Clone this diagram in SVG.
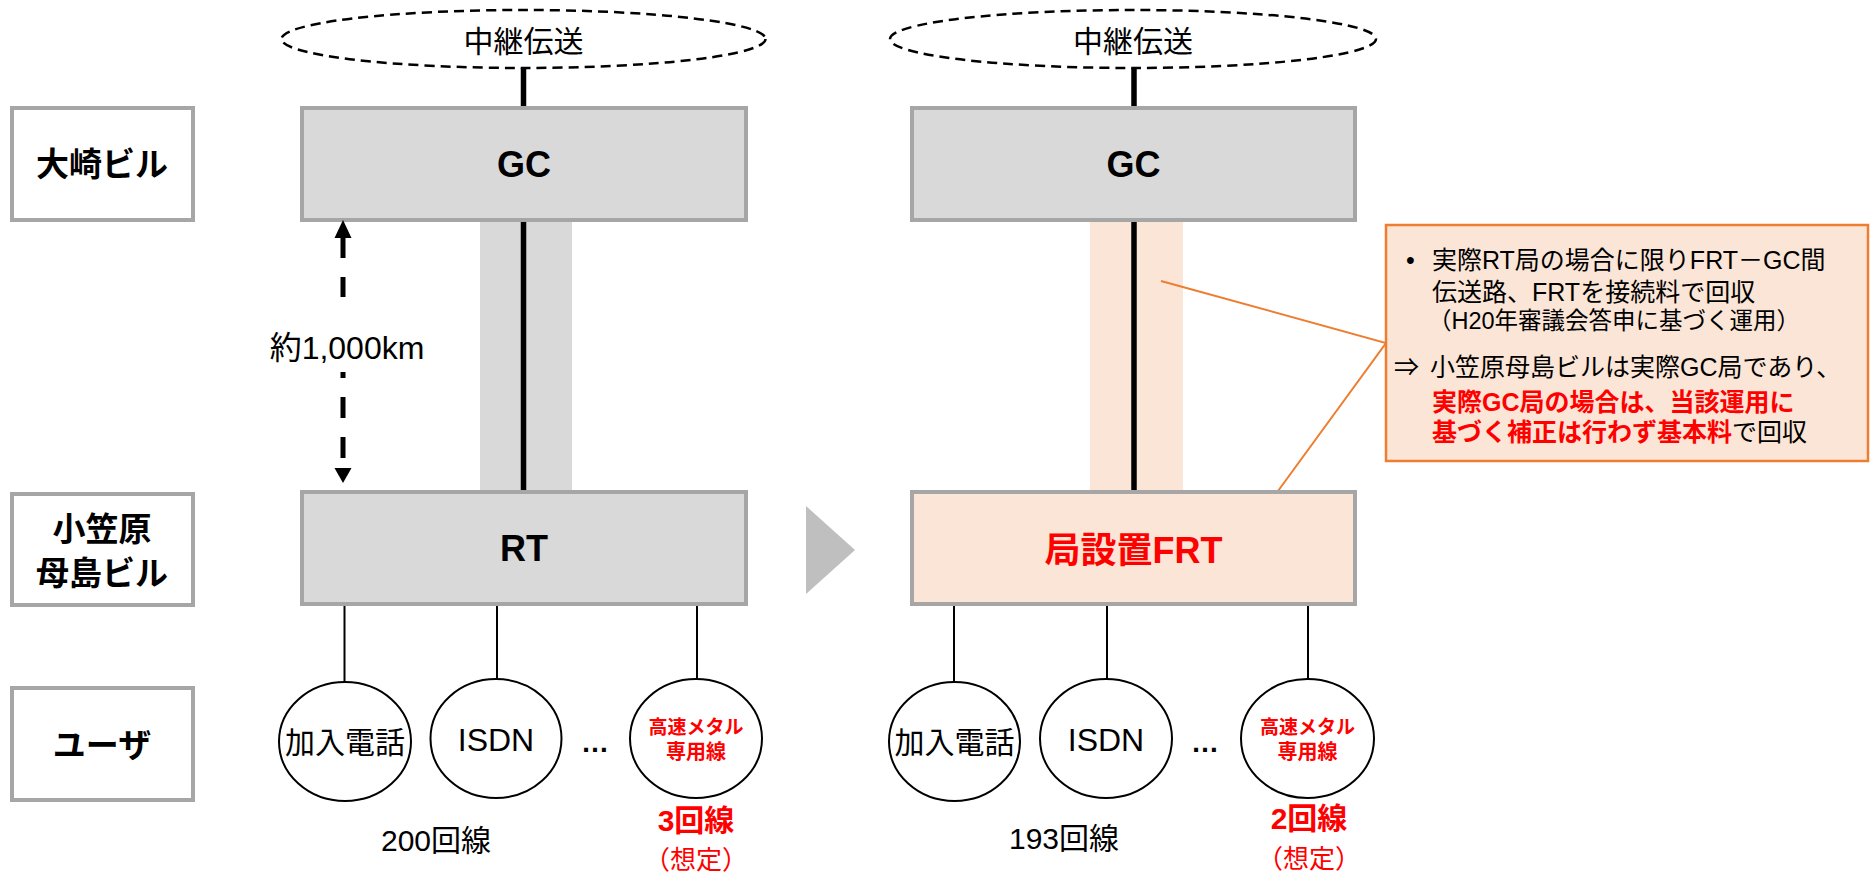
<svg xmlns="http://www.w3.org/2000/svg" width="1873" height="875" viewBox="0 0 1873 875">
<style>
text{font-family:"Liberation Sans","Noto Sans CJK JP",sans-serif;fill:#000}
.jp{font-family:"Noto Sans CJK JP","Liberation Sans",sans-serif}
.b{font-weight:bold}
.red{fill:#ff0000}
.c{text-anchor:middle}
.lbl{fill:#fff;stroke:#a6a6a6;stroke-width:4}
.gbox{fill:#d9d9d9;stroke:#a6a6a6;stroke-width:4}
.pbox{fill:#fbe5d6;stroke:#a6a6a6;stroke-width:4}
.relay{fill:#fff;stroke:#000;stroke-width:2.5;stroke-dasharray:10 6}
.thick{stroke:#000;stroke-width:5.5}
.leg{stroke:#000;stroke-width:2}
.user{fill:#fff;stroke:#000;stroke-width:2}
.orange{stroke:#ed7d31;stroke-width:2;fill:none}
</style>

<g id="label-osaki"><rect class="lbl" x="12" y="108" width="181" height="112"/><text class="jp b c" x="102" y="176" font-size="33">大崎ビル</text></g>
<g id="label-hahajima"><rect class="lbl" x="12" y="494" width="181" height="111"/><text class="jp b c" x="102" y="541" font-size="33">小笠原</text><text class="jp b c" x="102" y="585" font-size="33">母島ビル</text></g>
<g id="label-user"><rect class="lbl" x="12" y="688" width="181" height="112"/><text class="jp b c" x="102" y="757" font-size="33">ユーザ</text></g>

<g id="columns">
<rect x="480" y="220" width="92" height="272" fill="#d9d9d9"/>
<rect x="1090" y="220" width="93" height="272" fill="#fbe5d6"/>
</g>

<g id="connectors">
<line class="thick" x1="523.5" y1="68" x2="523.5" y2="108"/>
<line class="thick" x1="523.5" y1="220" x2="523.5" y2="492"/>
<line class="thick" x1="1134" y1="68" x2="1134" y2="108"/>
<line class="thick" x1="1134" y1="220" x2="1134" y2="492"/>
<line class="leg" x1="344.5" y1="604" x2="344.5" y2="682"/>
<line class="leg" x1="497" y1="604" x2="497" y2="679"/>
<line class="leg" x1="697" y1="604" x2="697" y2="679"/>
<line class="leg" x1="954" y1="604" x2="954" y2="682"/>
<line class="leg" x1="1107" y1="604" x2="1107" y2="679"/>
<line class="leg" x1="1308" y1="604" x2="1308" y2="679"/>
<polyline class="orange" points="1161,281 1386,343 1278,491"/>
</g>

<g id="relay-left"><ellipse class="relay" cx="523.5" cy="39" rx="242" ry="29"/><text class="jp c" x="523.5" y="52" font-size="30">中継伝送</text></g>
<g id="relay-right"><ellipse class="relay" cx="1133" cy="39" rx="243" ry="29"/><text class="jp c" x="1133" y="52" font-size="30">中継伝送</text></g>

<g id="gc-left"><rect class="gbox" x="302" y="108" width="444" height="112"/><text class="b c" x="524" y="177" font-size="36">GC</text></g>
<g id="rt-left"><rect class="gbox" x="302" y="492" width="444" height="112"/><text class="b c" x="524" y="561" font-size="36">RT</text></g>
<g id="gc-right"><rect class="gbox" x="912" y="108" width="443" height="112"/><text class="b c" x="1133.5" y="177" font-size="36">GC</text></g>
<g id="frt-right"><rect class="pbox" x="912" y="492" width="443" height="112"/><text class="b c red" x="1133.5" y="563" font-size="36">局設置FRT</text></g>

<g id="distance">
<polygon points="343,220 334.5,238 351.5,238" fill="#000"/>
<polygon points="343,483 334.5,468 351.5,468" fill="#000"/>
<line x1="343" y1="238" x2="343" y2="316" stroke="#000" stroke-width="5" stroke-dasharray="20 19"/>
<line x1="343" y1="372" x2="343" y2="458" stroke="#000" stroke-width="5" stroke-dasharray="21 19" stroke-dashoffset="15"/>
<text class="c" x="347" y="359" font-size="32">約1,000km</text>
</g>

<g id="transition"><polygon points="806,506 855,550 806,594" fill="#bfbfbf"/></g>

<g id="users-left">
<ellipse class="user" cx="345" cy="741.5" rx="66" ry="59.5"/><text class="jp c" x="345" y="753" font-size="30">加入電話</text>
<ellipse class="user" cx="496" cy="738.5" rx="65.5" ry="59.5"/><text class="c" x="496" y="751" font-size="32">ISDN</text>
<text class="b c" x="595" y="752" font-size="28">…</text>
<ellipse class="user" cx="696" cy="738.5" rx="66" ry="59.5"/><text class="jp b c red" x="696" y="734" font-size="19">高速メタル</text><text class="jp b c red" x="696" y="759" font-size="20">専用線</text>
<text class="c" x="436" y="851" font-size="30">200回線</text>
<text class="b c red" x="696" y="831" font-size="30">3回線</text>
<text class="jp c red" x="696" y="869" font-size="26">（想定）</text>
</g>

<g id="users-right">
<ellipse class="user" cx="954.5" cy="741.5" rx="65.5" ry="59.5"/><text class="jp c" x="954.5" y="753" font-size="30">加入電話</text>
<ellipse class="user" cx="1106" cy="738.5" rx="66" ry="59.5"/><text class="c" x="1106" y="751" font-size="32">ISDN</text>
<text class="b c" x="1205" y="752" font-size="28">…</text>
<ellipse class="user" cx="1307.5" cy="738.5" rx="66.5" ry="59.5"/><text class="jp b c red" x="1307.5" y="734" font-size="19">高速メタル</text><text class="jp b c red" x="1307.5" y="759" font-size="20">専用線</text>
<text class="c" x="1064" y="849" font-size="30">193回線</text>
<text class="b c red" x="1309" y="829" font-size="30">2回線</text>
<text class="jp c red" x="1309" y="868" font-size="26">（想定）</text>
</g>

<g id="callout">
<rect x="1386" y="225" width="482" height="236" fill="#fbe5d6" stroke="#ed7d31" stroke-width="2.5"/>
<text x="1406" y="269" font-size="25">•</text>
<text x="1432" y="269" font-size="25">実際RT局の場合に限りFRT－GC間</text>
<text x="1432" y="301" font-size="25">伝送路、FRTを接続料で回収</text>
<text x="1428" y="329" font-size="23.5">（H20年審議会答申に基づく運用）</text>
<text x="1394" y="376" font-size="25">⇒</text>
<text x="1430" y="376" font-size="25">小笠原母島ビルは実際GC局であり、</text>
<text x="1432" y="411" font-size="25" class="b red">実際GC局の場合は、当該運用に</text>
<text x="1432" y="441" font-size="25"><tspan class="b red">基づく補正は行わず基本料</tspan>で回収</text>
</g>
</svg>
